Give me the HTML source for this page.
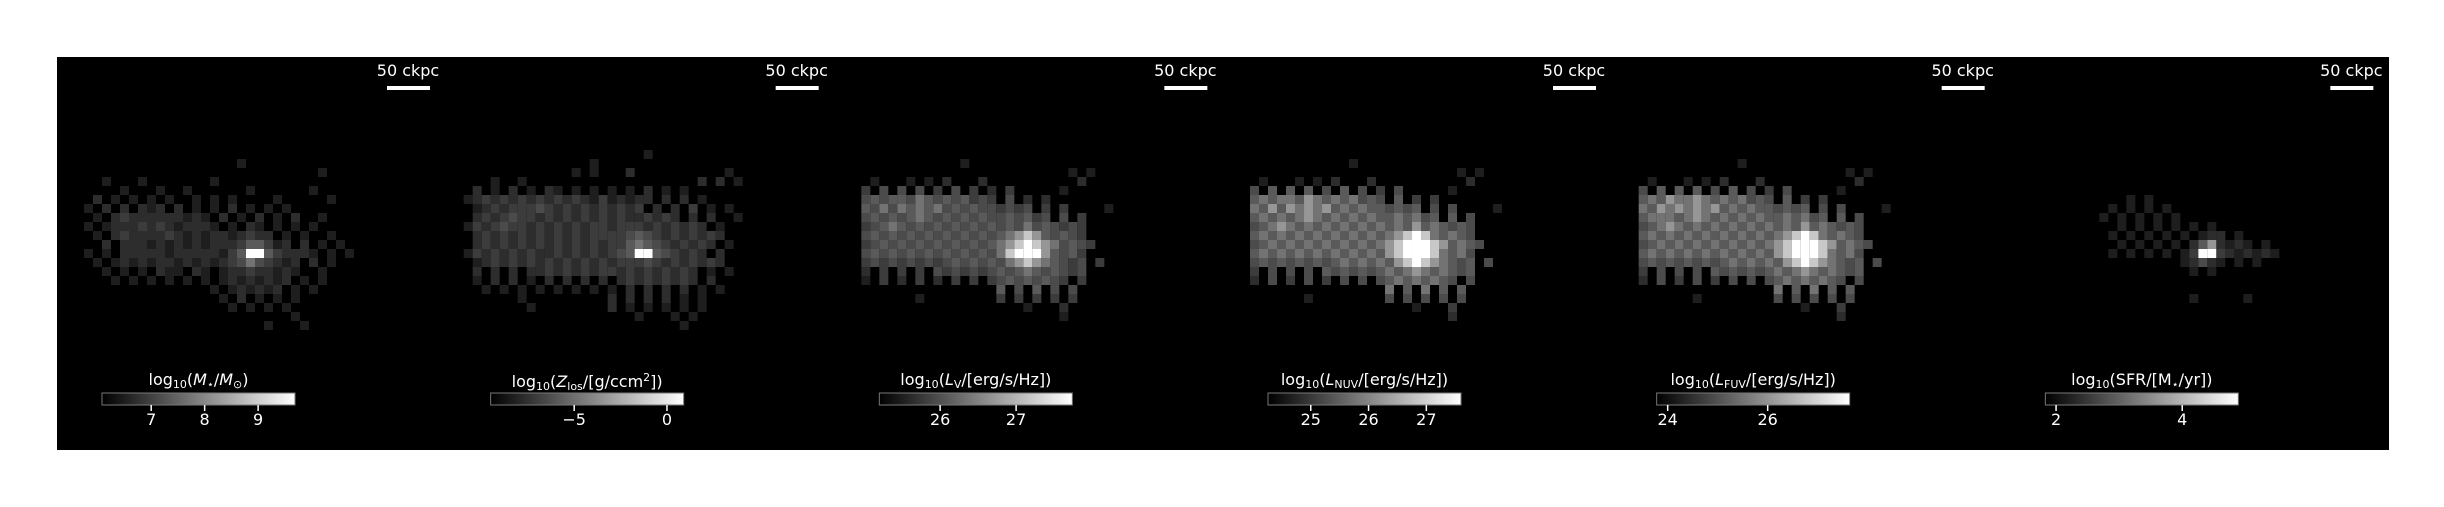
<!DOCTYPE html>
<html><head><meta charset="utf-8">
<style>
html,body{margin:0;padding:0;background:#fff;}
#wrap{position:relative;width:2444px;height:507px;overflow:hidden;background:#fff;font-family:"DejaVu Sans","Liberation Sans",sans-serif;}
svg{position:absolute;left:0;top:0;}
.t{position:absolute;color:#fff;font-size:16px;white-space:nowrap;transform:translateX(-50%);line-height:1;}
.t sub{font-size:11px;vertical-align:-3px;}
.t sup{font-size:11px;vertical-align:6px;}
</style></head>
<body>
<div id="wrap">
<svg id="chart" width="2444" height="507"></svg>
</div>
<script>
// ---- data ----
const panelNames = ["stellar-mass","metallicity","l-v","l-nuv","l-fuv","sfr"];
const titles = [
 'log<sub>10</sub>(<i>M</i><sub>⋆</sub>/<i>M</i><sub>⊙</sub>)',
 'log<sub>10</sub>(<i>Z</i><sub>los</sub>/[g/ccm<sup>2</sup>])',
 'log<sub>10</sub>(<i>L</i><sub>V</sub>/[erg/s/Hz])',
 'log<sub>10</sub>(<i>L</i><sub>NUV</sub>/[erg/s/Hz])',
 'log<sub>10</sub>(<i>L</i><sub>FUV</sub>/[erg/s/Hz])',
 'log<sub>10</sub>(SFR/[M<sub>⋆</sub>/yr])'
];
const cbarMin = [6.08,-9.5,25.2,24.26,23.78,1.83];
const cbarMax = [9.69,0.9,27.74,27.6,27.64,4.89];
const cbarTicks = [[7,8,9],[-5,0],[26,27],[25,26,27],[24,26],[2,4]];
const cbarTickLabels = [["7","8","9"],["\u22125","0"],["26","27"],["25","26","27"],["24","26"],["2","4"]];
const scaleLabel = "50 ckpc";
const grayLevels = [0,30,45,60,75,90,115,150,200,255];

const grid1 = [
"000000000000000000000000000000000000",
"000000000000000000010000000000000000",
"000000000000000000000000000010000000",
"000010001000000010000000000000000000",
"000000100010010000001000000100000000",
"000201010101001010100001000001000000",
"001020202120201010201010100000000000",
"000102322222212102010201020010000000",
"001012223232122210102101010100000000",
"000102322223212122123220101001000000",
"000020222121212122235531202010100000",
"001010222221222221359953222101010000",
"000101212122121212346432120201000000",
"000010101021102101223221210010000000",
"000001010101010101212121201010000000",
"000000000000000010121212010100000000",
"000000000000000001020101010000000000",
"000000000000000000101010100000000000",
"000000000000000000000000010000000000",
"000000000000000000000010001000000000",
"000000000000000000000000000000000000",
"000000000000000000000000000000000000"];
const grid2 = [
"000000000000000000000100000000000000",
"000000000000000100000000000000000000",
"000000000000010100020000000000100000",
"000010010000000000000000000202010000",
"002010201021010101010201010000000000",
"012323232323232131212202020100000000",
"001232333432323232323020203010100000",
"002323433232323232322323202020010000",
"013234332323232332333232323201000000",
"002323232323232333345432323232000000",
"002323232323232323356543232320100000",
"013232323223232323459954323202000000",
"001232323232323232333432323232000000",
"002020202232323233232323232010100000",
"001020201020202020232323232020000000",
"000101010101010101020202020101000000",
"000000010000000002020202010100000000",
"000000001000000002010101010100000000",
"000000000000000000001000101000000000",
"000000000000000000000000010000000000",
"000000000000000000000000000000000000",
"000000000000000000000000000000000000"];
const grid3 = [
"000000000000000000000000000000000000",
"000000000000010000000000000000000000",
"000000000000000000000000010100000000",
"000100010102000200000000002000000000",
"003040404030403020300000100000000000",
"004545546545453430402020000000000000",
"005464656564545443434030300001000000",
"004545456545454544545340403000000000",
"003456545454545454546454343000000000",
"004545454545454545678754543000000000",
"003454545454545456789876454300000000",
"004545454545454546899975453000000000",
"003434343434545454678765434030000000",
"002030303043434345456545434000000000",
"001030203020303034545454303000000000",
"000000000000000005040504040000000000",
"000000001000000003030303030000000000",
"000000000000000000001000200000000000",
"000000000000000000000000100000000000",
"000000000000000000000000000000000000",
"000000000000000000000000000000000000",
"000000000000000000000000000000000000"];
const grid4 = [
"000000000000000000000000000000000000",
"000000000000010000000000000000000000",
"000000000000000000000000010100000000",
"000100010102000200000000002000000000",
"004050505040504030400000100000000000",
"005656657656564540503030000000000000",
"006575767675656554545040400001000000",
"005656567656565655656450504000000000",
"004567656565656565657565454000000000",
"005656565656565656789865654000000000",
"004565656565656567899987565400000000",
"005656565656565657899986564000000000",
"004545454545656565789876545040000000",
"003040404054545456567656545000000000",
"002040304030404045656565404000000000",
"000000000000000006050605050000000000",
"000000001000000004040404040000000000",
"000000000000000000001000300000000000",
"000000000000000000000000200000000000",
"000000000000000000000000000000000000",
"000000000000000000000000000000000000",
"000000000000000000000000000000000000"];
const grid5 = [
"000000000000000000000000000000000000",
"000000000000010000000000000000000000",
"000000000000000000000000010100000000",
"000100010102000200000000002000000000",
"004050505040504030400000100000000000",
"005657667656564540503030000000000000",
"006576767675656554545040400001000000",
"005666567656565655656450504000000000",
"004567656565656565657565454000000000",
"005656565656565656789865654000000000",
"004565656565656567899987565400000000",
"005656565656565657899986564000000000",
"004545454545656565789876545040000000",
"003040404054545456567656545000000000",
"002040304030404045656565404000000000",
"000000000000000006050605050000000000",
"000000001000000004040404040000000000",
"000000000000000000001000300000000000",
"000000000000000000000000200000000000",
"000000000000000000000000000000000000",
"000000000000000000000000000000000000",
"000000000000000000000000000000000000"];
const grid6 = [
"000000000000000000000000000000000000",
"000000000000000000000000000000000000",
"000000000000000000000000000000000000",
"000000000000000000000000000000000000",
"000000000000000000000000000000000000",
"000000000000010100000000000000000000",
"000000000001010101000000000000000000",
"000000000010101010100000000000000000",
"000000000000101010101010000000000000",
"000000000001010101010122010000000000",
"000000000000101010102572121010000000",
"000000000001010101013993212121000000",
"000000000000000000012421010100000000",
"000000000000000000001010000000000000",
"000000000000000000000000000000000000",
"000000000000000000000000000000000000",
"000000000000000000001000001000000000",
"000000000000000000000000000000000000",
"000000000000000000000000000000000000",
"000000000000000000000000000000000000",
"000000000000000000000000000000000000",
"000000000000000000000000000000000000"];
const grids = [grid1,grid2,grid3,grid4,grid5,grid6];

// ---- layout ----
const NS = "http://www.w3.org/2000/svg";
const svg = document.getElementById('chart');
const wrap = document.getElementById('wrap');
const X0 = 57, Y0 = 57, PW = 388.67, PH = 393;
const CELL = 9, GX = 9, GY = 150;
const CB_L = 45, CB_W = 193, CB_Y = 393, CB_H = 12;

function mk(tag, attrs){ const e = document.createElementNS(NS, tag); for (const k in attrs) e.setAttribute(k, attrs[k]); return e; }
function grayOf(d){ const g = grayLevels[d]; return 'rgb('+g+','+g+','+g+')'; }
function cbX(p, v){ return X0 + p*PW + CB_L + (v - cbarMin[p])/(cbarMax[p]-cbarMin[p])*CB_W; }

const defs = mk('defs', {});
const lg = mk('linearGradient', {id:'cbg', x1:'0', x2:'1', y1:'0', y2:'0'});
lg.appendChild(mk('stop', {offset:'0', 'stop-color':'#000'}));
lg.appendChild(mk('stop', {offset:'1', 'stop-color':'#fff'}));
defs.appendChild(lg);
svg.appendChild(defs);

const bg = mk('rect', {x:X0, y:Y0, width:PW*6, height:PH, fill:'#000'});


svg.appendChild(bg);

for (let p = 0; p < 6; p++) {
  const left = X0 + p*PW;
  const g = mk('g', {});
  
  
  svg.appendChild(g);
  const grid = grids[p];
  for (let r = 0; r < grid.length; r++) {
    for (let c = 0; c < grid[r].length; c++) {
      const d = +grid[r][c];
      if (!d) continue;
      const cell = mk('rect', {x:left + GX + c*CELL, y:GY + r*CELL, width:CELL, height:CELL, fill:grayOf(d)});
      
      
      g.appendChild(cell);
    }
  }
  const sb = mk('rect', {x:left + 330, y:86, width:43, height:4, fill:'#fff'});
  
  
  g.appendChild(sb);
  const st = document.createElement('div');
  st.className = 't';
  st.style.left = (left + 351) + 'px';
  st.style.top = '63px';
  st.textContent = scaleLabel;
  
  
  wrap.appendChild(st);
  const cb = mk('rect', {x:left + CB_L, y:CB_Y, width:CB_W, height:CB_H, fill:'url(#cbg)', stroke:'#777', 'stroke-width':1});
  
  
  g.appendChild(cb);
  cbarTicks[p].forEach((v, i) => {
    const x = cbX(p, v);
    const tk = mk('line', {x1:x, x2:x, y1:CB_Y + CB_H, y2:CB_Y + CB_H + 6, stroke:'#fff', 'stroke-width':1.5});
    
    
    g.appendChild(tk);
    const tl = document.createElement('div');
    tl.className = 't';
    tl.style.left = x + 'px';
    tl.style.top = '412px';
    tl.textContent = cbarTickLabels[p][i];
    
    
    wrap.appendChild(tl);
  });
  const tt = document.createElement('div');
  tt.className = 't';
  tt.style.left = (left + CB_L + CB_W/2) + 'px';
  tt.style.top = '372px';
  tt.innerHTML = titles[p];
  
  
  wrap.appendChild(tt);
}
</script>
</body></html>
